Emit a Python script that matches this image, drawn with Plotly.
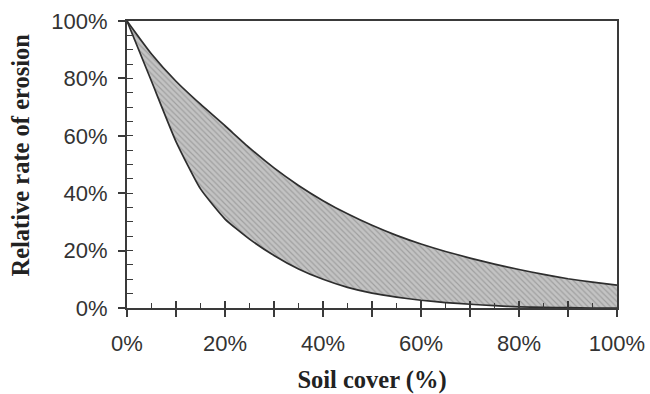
import plotly.graph_objects as go

# Soil cover (%)
soil_cover = [0, 5, 10, 15, 20, 25, 30, 35, 40, 45, 50, 55, 60, 65, 70, 75, 80, 85, 90, 95, 100]
# Relative rate of erosion (%) - upper envelope
upper = [100, 88.5, 79, 71, 63.5, 55.8, 48.8, 42.7, 37.4, 32.8, 28.8, 25.3, 22.3, 19.7, 17.4, 15.3, 13.4, 11.7, 10.2, 9, 8]
# Relative rate of erosion (%) - lower envelope
lower = [100, 79, 58, 41.5, 31, 24, 18.3, 13.6, 10, 7.2, 5.2, 3.8, 2.7, 1.9, 1.3, 0.8, 0.4, 0.2, 0.1, 0, 0]

x_tick_vals = [0, 20, 40, 60, 80, 100]
x_tick_text = ["0%", "20%", "40%", "60%", "80%", "100%"]
y_tick_vals = [0, 20, 40, 60, 80, 100]
y_tick_text = ["0%", "20%", "40%", "60%", "80%", "100%"]

line_col = "#2e2e2e"
axis_col = "#3a3a3a"

fig = go.Figure()

fig.add_trace(go.Scatter(
    x=soil_cover, y=lower, mode="lines",
    line=dict(color=line_col, width=1.7, shape="spline", smoothing=0.5),
    hoverinfo="skip", showlegend=False))
fig.add_trace(go.Scatter(
    x=soil_cover, y=upper, mode="lines",
    line=dict(color=line_col, width=1.7, shape="spline", smoothing=0.5),
    fill="tonexty", fillcolor="#bdbdbd",
    fillpattern=dict(shape="\\", bgcolor="#c3c3c3", fgcolor="#7c7c7c", size=4, solidity=0.3),
    hoverinfo="skip", showlegend=False))
# invisible trace to activate the overlay axes (inside ticks)
fig.add_trace(go.Scatter(
    x=soil_cover, y=upper, mode="lines", line=dict(width=0), opacity=0,
    xaxis="x2", yaxis="y2", hoverinfo="skip", showlegend=False))

tick_font = dict(family="Liberation Sans, Arial, sans-serif", size=22, color="#333333")
title_font = dict(family="Liberation Serif, Times New Roman, serif", size=24.5, color="#222222")

fig.update_layout(
    width=650, height=394,
    margin=dict(l=127, r=33, t=21, b=86),
    paper_bgcolor="white", plot_bgcolor="white",
    xaxis=dict(
        range=[0, 100], tickvals=x_tick_vals, ticktext=x_tick_text,
        ticks="outside", ticklen=7, tickwidth=1.6, tickcolor=axis_col,
        minor=dict(dtick=10, tick0=0, ticks="outside", ticklen=7, tickwidth=1.6, tickcolor=axis_col),
        showline=True, linecolor=axis_col, linewidth=2, mirror=True,
        showgrid=False, zeroline=False, tickfont=tick_font, automargin=False,
        ticklabelstandoff=8,
        title=dict(text="<b>Soil cover (%)</b>", font=title_font, standoff=25),
    ),
    xaxis2=dict(
        range=[0, 100], overlaying="x", side="bottom", dtick=10, tick0=0,
        ticks="inside", ticklen=7, tickwidth=1.6, tickcolor=axis_col,
        minor=dict(dtick=5, tick0=0, ticks="inside", ticklen=5, tickwidth=1.4, tickcolor=axis_col),
        showticklabels=False, showline=False, showgrid=False, zeroline=False, automargin=False,
    ),
    yaxis=dict(
        range=[0, 100], tickvals=y_tick_vals, ticktext=y_tick_text,
        ticks="outside", ticklen=7, tickwidth=1.6, tickcolor=axis_col,
        showline=True, linecolor=axis_col, linewidth=2, mirror=True,
        showgrid=False, zeroline=False, tickfont=tick_font, ticklabelstandoff=6,
        automargin=False,
        title=dict(text="<b>\u00a0\u00a0\u00a0Relative rate of erosion</b>", font=title_font, standoff=15),
    ),
    yaxis2=dict(
        range=[0, 100], overlaying="y", side="left", dtick=5, tick0=0,
        ticks="inside", ticklen=6, tickwidth=1.4, tickcolor=axis_col,
        showticklabels=False, showline=False, showgrid=False, zeroline=False, automargin=False,
    ),
)

# remove the default page margin so the 650x394 figure fills the window exactly
fig.write_html(
    "out.html",
    config={"displayModeBar": False},
    post_script="document.body.style.margin='0';document.body.style.overflow='hidden';",
)
